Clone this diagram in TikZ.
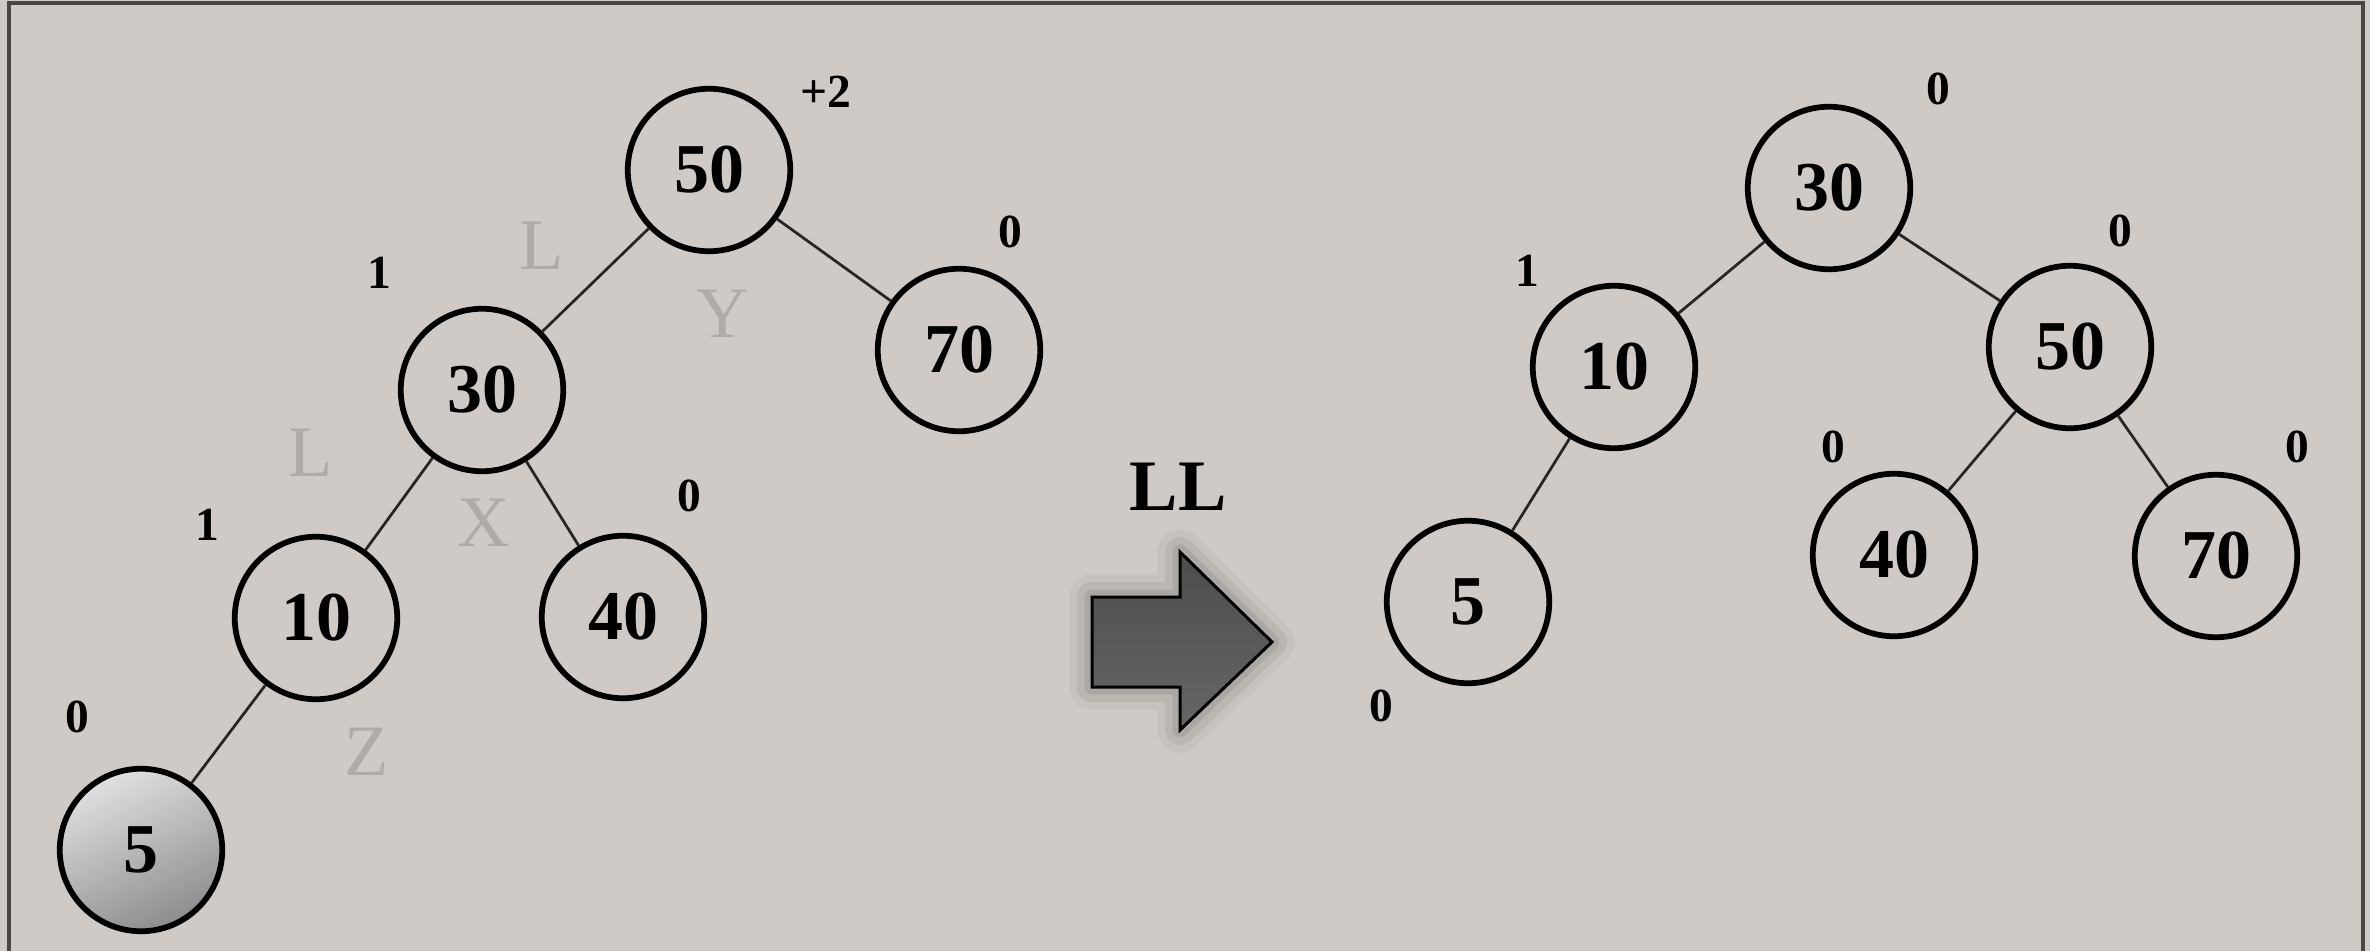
\documentclass[tikz,border=0pt]{standalone}
\usepackage{fontspec}
\setmainfont{Liberation Serif}
\begin{document}
\begin{tikzpicture}[x=0.4pt,y=-0.4pt,
  tn/.style={circle,draw=black,line width=2.3pt,minimum size=65pt,inner sep=0pt,
    font=\fontsize{28}{30}\selectfont\bfseries},
  bal/.style={font=\fontsize{19}{21}\selectfont\bfseries,inner sep=0pt},
  glet/.style={font=\fontsize{29}{31}\selectfont,text=letgray,inner sep=0pt},
  edge/.style={line width=1.1pt,draw=black!85}]
\definecolor{bgpaper}{HTML}{CFCAC6}
\definecolor{letgray}{HTML}{B0ABA8}
\definecolor{framec}{HTML}{4A4645}
\useasboundingbox (0,0) rectangle (2370,951);
\fill[bgpaper] (0,0) rectangle (2370,951);
\draw[framec,line width=1.6pt] (9,951) -- (9,3) -- (2363,3) -- (2363,951);

% left tree
\node[tn] (a50) at (709,170) {50};
\node[tn] (a70) at (959,350) {70};
\node[tn] (a30) at (482,390) {30};
\node[tn] (a10) at (316,618) {10};
\node[tn] (a40) at (623,617) {40};
\node[tn,shading=axis,top color=white!88!black,bottom color=black!45,shading angle=25] (a5) at (141,850) {5};
\draw[edge] (a50) -- (a30);
\draw[edge] (a50) -- (a70);
\draw[edge] (a30) -- (a10);
\draw[edge] (a30) -- (a40);
\draw[edge] (a10) -- (a5);

\node[bal] (b50) at (826,92) {+2};
\node[bal] (b70) at (1010,232) {0};
\node[bal] (b30) at (379,273) {1};
\node[bal] (b10) at (207,525) {1};
\node[bal] (b40) at (689,496) {0};
\node[bal] (b5) at (77,717) {0};

\node[glet] (gl1) at (542,246) {L};
\node[glet] (gy) at (723,314) {Y};
\node[glet] (gl2) at (311,453) {L};
\node[glet] (gx) at (484,523) {X};
\node[glet] (gz) at (367,752) {Z};

% arrow
\node[font=\fontsize{29}{31}\selectfont\bfseries,inner sep=0pt] (ll) at (1178,487) {LL};
\foreach \w/\o in {18/0.04,12/0.06,6/0.08}{
  \draw[black,opacity=\o,line width=\w pt,line join=round]
    (1092,597) -- (1180,597) -- (1180,552) -- (1272,642) -- (1180,730) -- (1180,687) -- (1092,687) -- cycle;}
\draw[black,line width=1.2pt,line join=miter,top color=black!70,bottom color=black!60]
  (1092,597) -- (1180,597) -- (1180,552) -- (1272,642) -- (1180,730) -- (1180,687) -- (1092,687) -- cycle;

% right tree
\node[tn] (c30) at (1829,188) {30};
\node[tn] (c10) at (1614,367) {10};
\node[tn] (c50) at (2070,347) {50};
\node[tn] (c5) at (1468,602) {5};
\node[tn] (c40) at (1894,555) {40};
\node[tn] (c70) at (2216,556) {70};
\draw[edge] (c30) -- (c10);
\draw[edge] (c30) -- (c50);
\draw[edge] (c10) -- (c5);
\draw[edge] (c50) -- (c40);
\draw[edge] (c50) -- (c70);

\node[bal] (d30) at (1938,89) {0};
\node[bal] (d10) at (1527,271) {1};
\node[bal] (d50) at (2120,231) {0};
\node[bal] (d40) at (1833,447) {0};
\node[bal] (d70) at (2297,447) {0};
\node[bal] (d5) at (1381,706) {0};
\end{tikzpicture}
\end{document}
